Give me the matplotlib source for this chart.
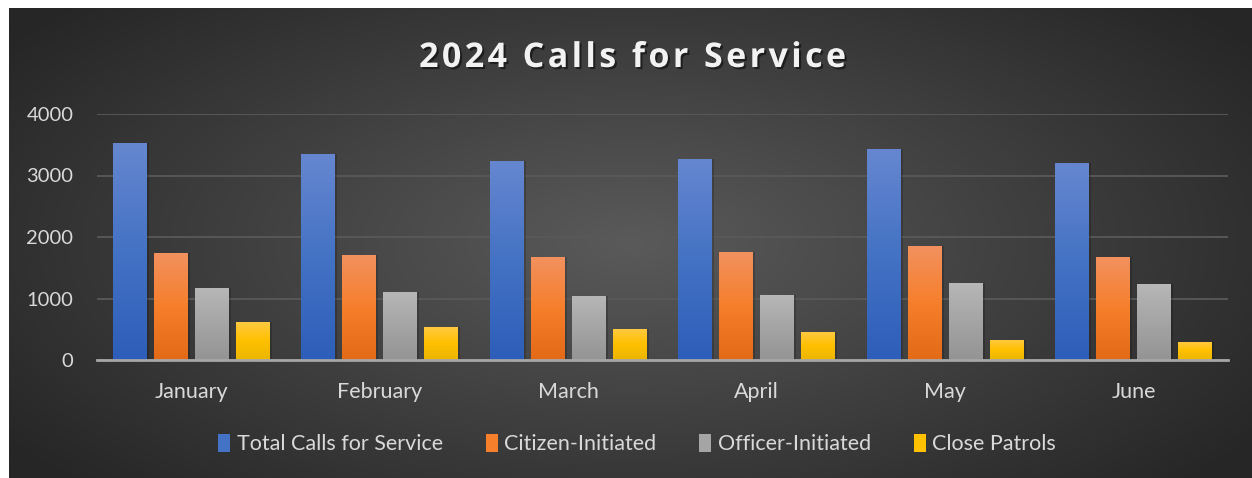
import numpy as np
import matplotlib
matplotlib.use("Agg")
import matplotlib.pyplot as plt
from matplotlib.colors import LinearSegmentedColormap
import matplotlib.patheffects as pe

months = ["January", "February", "March", "April", "May", "June"]
series_names = ["Total Calls for Service", "Citizen-Initiated", "Officer-Initiated", "Close Patrols"]
total_calls = [3530, 3350, 3237, 3269, 3432, 3204]
citizen_initiated = [1743, 1710, 1678, 1759, 1857, 1678]
officer_initiated = [1175, 1110, 1045, 1061, 1256, 1240]
close_patrols = [622, 541, 509, 460, 330, 298]
yticks = [0, 1000, 2000, 3000, 4000]
title = "2024 Calls for Service"

series = [total_calls, citizen_initiated, officer_initiated, close_patrols]
# top, middle, bottom colours for each series gradient
grads = [
    ["#6687d0", "#4472c4", "#2d5eb9"],
    ["#f2915f", "#f67f2c", "#e36a16"],
    ["#b7b7b7", "#a5a5a5", "#949494"],
    ["#ffca45", "#ffc000", "#ebb600"],
]

W, H = 1252, 478
fig = plt.figure(figsize=(W / 100, H / 100), dpi=100, facecolor="white")
plt.rcParams["font.family"] = ["Lato", "DejaVu Sans"]

# radial gradient background
bg = fig.add_axes([9 / W, 0, 1 - 9 / W, 1 - 8 / H])
bg.set_axis_off()
yy, xx = np.mgrid[0:1:240j, 0:1:620j]
r = np.sqrt(((xx - 0.5) / 0.62) ** 2 + ((yy - 0.5) / 0.75) ** 2)
r = np.clip(r, 0, 1)
bgcmap = LinearSegmentedColormap.from_list("bg", ["#5a5a5a", "#404040", "#262626"])
bg.imshow(r, cmap=bgcmap, aspect="auto", extent=(0, 1, 0, 1), vmin=0, vmax=1)
bg.set_xlim(0, 1)
bg.set_ylim(0, 1)

ax = fig.add_axes([97 / W, 1 - 360 / H, (1228 - 97) / W, (360 - 114) / H])
ax.patch.set_alpha(0)

x = np.arange(len(months))
pitch = 0.2175
width = 0.18
grad = np.linspace(1, 0, 100).reshape(-1, 1)
for i, (vals, cols) in enumerate(zip(series, grads)):
    cmap = LinearSegmentedColormap.from_list("g%d" % i, cols[::-1])
    xs = x + (i - 1.5) * pitch
    # soft shadow
    ax.bar(xs + 0.012, vals, width, color="black", alpha=0.18, zorder=2)
    bars = ax.bar(xs, vals, width, color=cols[1], zorder=3, label=series_names[i])
    for b in bars:
        x0, y0 = b.get_x(), b.get_y()
        im = ax.imshow(grad, cmap=cmap, aspect="auto", vmin=0, vmax=1,
                       extent=(x0, x0 + b.get_width(), y0, y0 + b.get_height()), zorder=4)
        im.set_clip_path(b)

ax.set_xlim(-0.5, len(months) - 0.5)
ax.set_ylim(0, 4000)
ax.set_yticks(yticks)
ax.set_xticks(x)
ax.set_xticklabels(months)
ax.yaxis.grid(True, color="#595959", linewidth=1.3, zorder=0)
ax.set_axisbelow(True)
for s in ["top", "right", "left"]:
    ax.spines[s].set_visible(False)
ax.spines["bottom"].set_color("#a6a6a6")
ax.spines["bottom"].set_linewidth(2)
ax.spines["bottom"].set_zorder(5)
ax.tick_params(axis="both", length=0, colors="#d9d9d9")
ax.tick_params(axis="y", pad=17, labelsize=14.5)
ax.tick_params(axis="x", pad=16, labelsize=15.5)

# letter-spaced title
spaced = "\u200a".join(title)
fig.text(0.505, 1 - 58 / H, spaced,
         ha="center", va="center", color="#f2f2f2", fontsize=24.5, fontweight="bold",
         family=["Open Sans", "DejaVu Sans"],
         path_effects=[pe.withSimplePatchShadow(offset=(1.5, -1.5), shadow_rgbFace="black", alpha=0.5)])

handles, labels = ax.get_legend_handles_labels()
leg = fig.legend(handles, labels, loc="center", bbox_to_anchor=(637 / W, 1 - 444 / H), ncol=4,
                 frameon=False, fontsize=15.5, labelcolor="#d9d9d9", handlelength=0.55,
                 handleheight=0.9, handletextpad=0.3, columnspacing=2.0)

fig.savefig("out.png", dpi=100, facecolor="white")
